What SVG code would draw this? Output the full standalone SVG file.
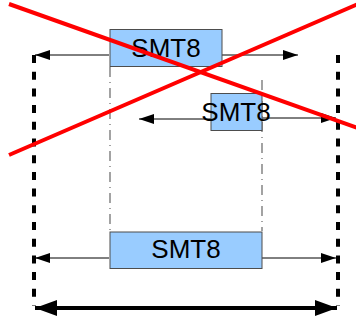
<svg xmlns="http://www.w3.org/2000/svg" width="356" height="323" viewBox="0 0 356 323">
  <style>
    .box { fill: #99ccff; stroke: #4d4d4d; stroke-width: 1; }
    .lbl { font-family: "Liberation Sans", Arial, sans-serif; font-size: 26px; fill: #000; text-anchor: middle; }
    .thin { stroke: #000; stroke-width: 1; fill: none; }
    .bound { stroke: #000; stroke-width: 4; stroke-dasharray: 8 8.7; fill: none; }
    .guide { stroke: #666; stroke-width: 1.2; stroke-dasharray: 10 5 1 5; fill: none; }
    .cross { stroke: #ff0000; stroke-width: 4; fill: none; }
  </style>
  <defs>
    <marker id="ah" viewBox="0 0 15 10" refX="15" refY="5" markerWidth="15" markerHeight="10" markerUnits="userSpaceOnUse" orient="auto-start-reverse">
      <path d="M0,0 L15,5 L0,10 Z" fill="#000"/>
    </marker>
    <marker id="ahBig" viewBox="0 0 22 16" refX="22" refY="8" markerWidth="22" markerHeight="16" markerUnits="userSpaceOnUse" orient="auto-start-reverse">
      <path d="M0,0 L22,8 L0,16 Z" fill="#000"/>
    </marker>
  </defs>

  <!-- boundary lines and guides -->
  <g id="connectors">
    <line class="bound" x1="34" y1="55" x2="34" y2="306"/>
    <line class="bound" x1="338" y1="55" x2="338" y2="306"/>
    <line class="guide" x1="110" y1="67" x2="110" y2="231"/>
    <line class="guide" x1="262" y1="80" x2="262" y2="231"/>

    <line class="thin" x1="109" y1="55" x2="35" y2="55" marker-end="url(#ah)"/>
    <line class="thin" x1="222" y1="55" x2="298" y2="55" marker-end="url(#ah)"/>
    <line class="thin" x1="211" y1="119" x2="139" y2="119" marker-end="url(#ah)"/>
    <line class="thin" x1="262" y1="118" x2="336" y2="118" marker-end="url(#ah)"/>
    <line class="thin" x1="109" y1="258" x2="35" y2="258" marker-end="url(#ah)"/>
    <line class="thin" x1="262" y1="258" x2="336" y2="258" marker-end="url(#ah)"/>

    <line x1="35" y1="308" x2="337" y2="308" stroke="#000" stroke-width="4" marker-start="url(#ahBig)" marker-end="url(#ahBig)"/>
  </g>

  <g id="node-top">
    <rect class="box" x="110" y="29.5" width="112" height="37"/>
    <text class="lbl" x="166" y="56.5">SMT8</text>
  </g>

  <g id="node-middle">
    <rect class="box" x="211" y="93.5" width="51" height="37"/>
    <text class="lbl" x="236" y="121">SMT8</text>
  </g>

  <g id="node-bottom">
    <rect class="box" x="110" y="232" width="152" height="36.5"/>
    <text class="lbl" x="186" y="258">SMT8</text>
  </g>

  <!-- strike-through cross -->
  <g id="cross">
    <line class="cross" x1="9" y1="4" x2="358" y2="128"/>
    <line class="cross" x1="9" y1="155" x2="358" y2="4"/>
  </g>
</svg>
